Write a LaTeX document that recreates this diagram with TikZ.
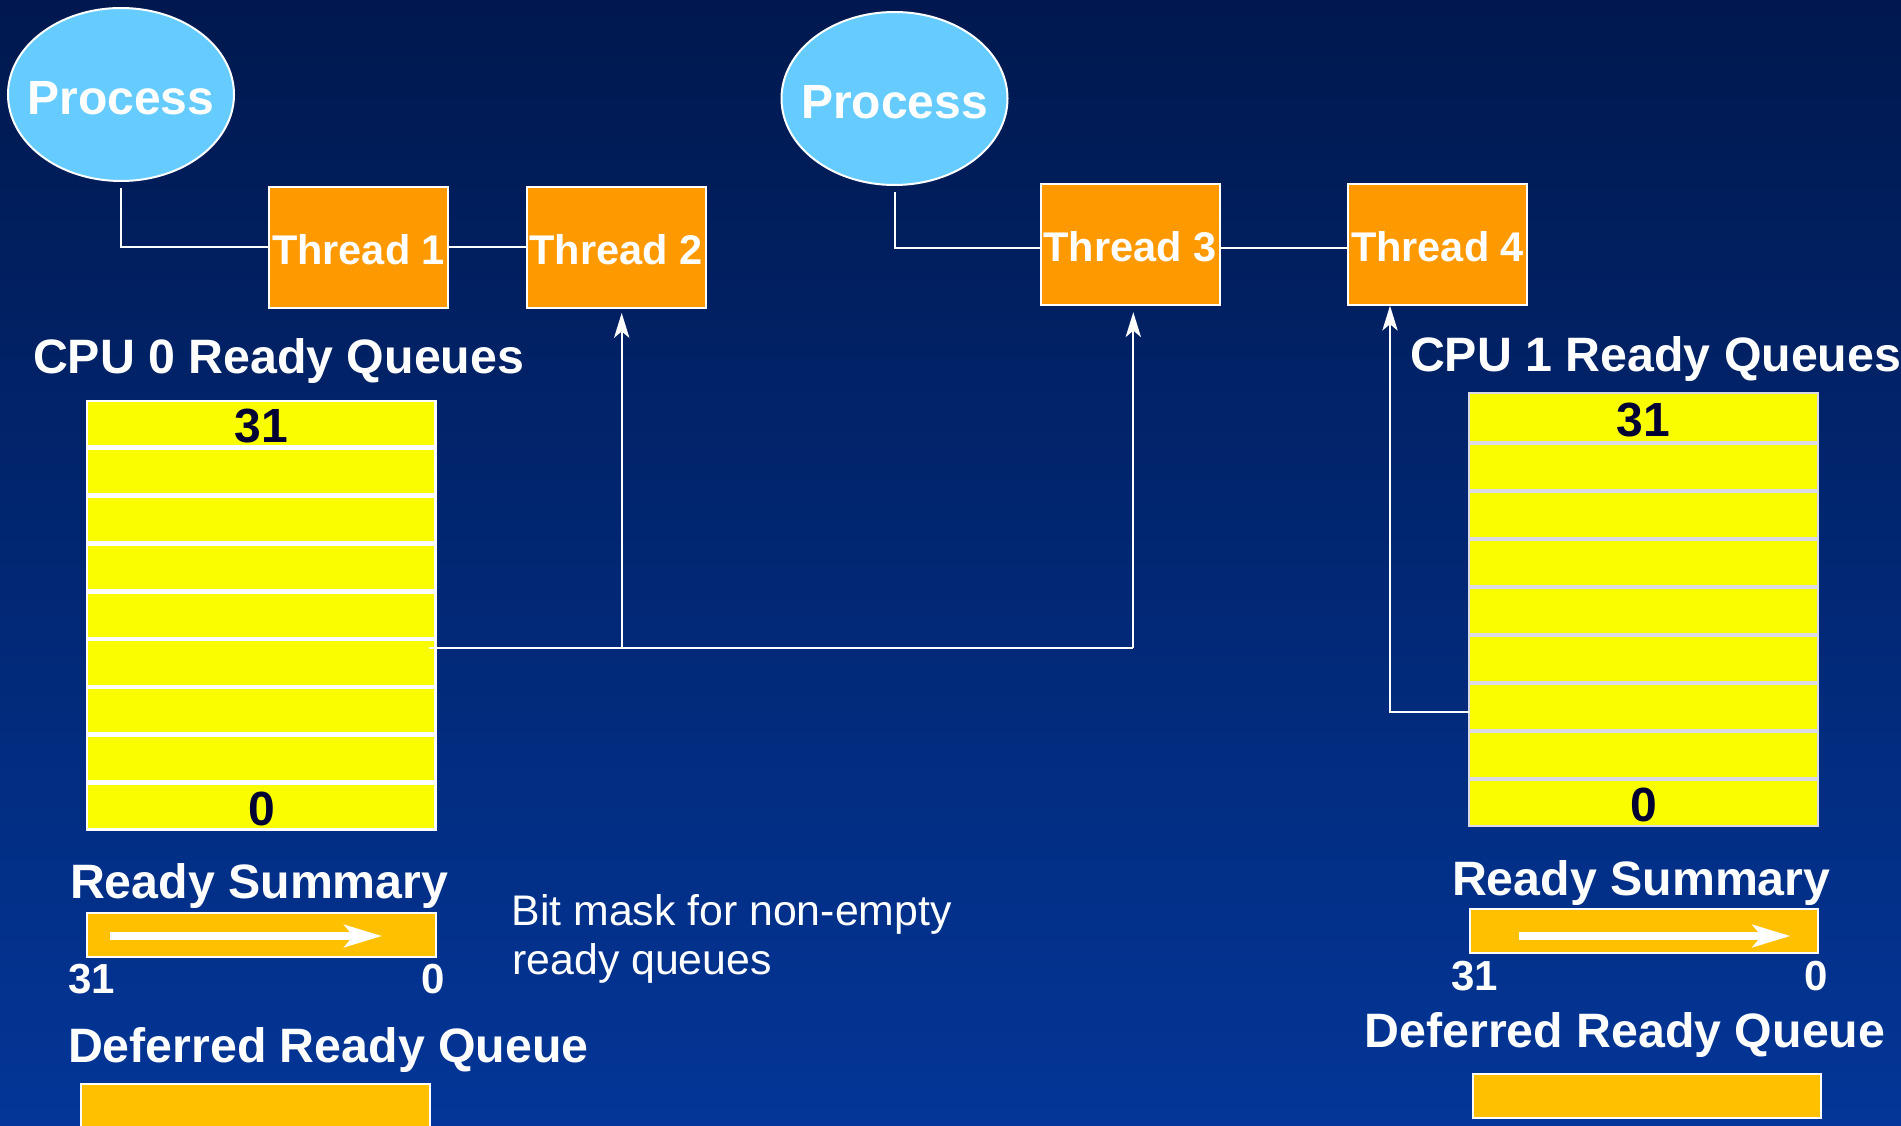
\documentclass[tikz,border=0pt]{standalone}
\usepackage{fontspec}
\setmainfont{Liberation Sans}
\usetikzlibrary{shapes.geometric,arrows.meta}

\definecolor{bgtop}{RGB}{0,24,78}
\definecolor{bgbot}{RGB}{3,54,152}
\definecolor{procblue}{RGB}{102,204,255}
\definecolor{thrdorange}{RGB}{255,153,0}
\definecolor{qyellow}{RGB}{250,252,0}
\definecolor{sumgold}{RGB}{255,192,0}
\definecolor{qnavy}{RGB}{0,0,51}
\definecolor{qsep}{RGB}{218,218,228}

\newcommand{\pxsize}[1]{\fontsize{#1}{#1}\selectfont}

\begin{document}
\begin{tikzpicture}[x=1pt,y=-1pt,
  wire/.style={draw=white, line width=2pt},
  uptip/.style={-{Stealth[length=25pt,width=15.5pt,inset=6.5pt,line width=0pt]}},
  bitarrow/.style={draw=white, line width=8.3pt,
    -{Stealth[length=38.4pt,width=23.4pt,inset=10pt,line width=0pt]}},
  process/.style={ellipse, fill=procblue, draw=white, line width=2pt,
    minimum width=226pt, minimum height=173pt, inner sep=0pt, outer sep=0pt},
  proclabel/.style={text=white, font=\bfseries\pxsize{48}, inner sep=0pt, yshift=-3.5pt},
  thread/.style={rectangle, fill=thrdorange, draw=white, line width=2pt,
    minimum width=179pt, minimum height=121pt, inner sep=0pt, outer sep=0pt,
    text height=35pt, text depth=0pt,
    text=white, font=\bfseries\pxsize{41.5}},
  qrow0/.style={rectangle, fill=qyellow, draw=white, line width=2.4pt,
    minimum width=348.2pt, minimum height=45.5pt, inner sep=0pt, outer sep=0pt,
    text height=37.5pt, text depth=0pt,
    text=qnavy, font=\bfseries\pxsize{48}},
  qrow1/.style={rectangle, fill=qyellow, draw=qsep, line width=1.8pt,
    minimum width=349.2pt, minimum height=46.2pt, inner sep=0pt, outer sep=0pt,
    text height=37.5pt, text depth=0pt,
    text=qnavy, font=\bfseries\pxsize{48}},
  sumbox/.style={rectangle, fill=sumgold, draw=white, line width=2pt,
    minimum width=348.7pt, minimum height=44.3pt, inner sep=0pt, outer sep=0pt},
  heading/.style={anchor=base west, inner sep=0pt, outer sep=0pt, text=white,
    font=\bfseries\pxsize{48.3}},
  bitnum/.style={inner sep=0pt, outer sep=0pt, text=white, font=\bfseries\pxsize{42}},
  note/.style={anchor=base west, inner sep=0pt, outer sep=0pt, text=white,
    font=\pxsize{42.8}}
]
\useasboundingbox (0,0) rectangle (1901,1126);
\clip (0,0) rectangle (1901,1126);
\shade[top color=bgtop, bottom color=bgbot] (0,0) rectangle (1901,1126);

% processes and their threads
\node[process, label={[proclabel]center:Process}] (p1) at (121,94.5) {};
\node[process, label={[proclabel]center:Process}] (p2) at (894.5,98.5) {};

\node[thread] (t1) at (358.5,247.5) {Thread 1};
\node[thread] (t2) at (616,247.5) {Thread 2};
\node[thread] (t3) at (1130,244.2) {Thread 3};
\node[thread] (t4) at (1437.5,244.2) {Thread 4};

\draw[wire, shorten <=7pt] (p1.south) |- (t1.west);
\draw[wire] (t1.east) -- (t2.west);
\draw[wire, shorten <=7pt] (p2.south) |- ([yshift=-4pt]t3.west);
\draw[wire] ([yshift=-4pt]t3.east) -- ([yshift=-4pt]t4.west);

% CPU 0 ready queues
\node[heading] (cpu0) at (33,373.3) {CPU 0 Ready Queues};
\node[qrow0] (q0r1) at (261.35,423.45) {31};
\foreach \i in {2,...,8}
  \node[qrow0] (q0r\i) at (261.35,{423.45+47.9*(\i-1)}) {};
\node[qrow0] (q0r9) at (261.35,806.65) {0};

% CPU 1 ready queues
\node[heading] (cpu1) at (1410,371) {CPU 1 Ready Queues};
\node[qrow1, minimum height=49.2pt] (q1r1) at (1643.5,417.5) {31};
\foreach \i in {2,...,8}
  \node[qrow1] (q1r\i) at (1643.5,{467+48*(\i-2)}) {};
\node[qrow1] (q1r9) at (1643.5,803) {0};

% queue to thread links
\coordinate (j2) at (621.7,648.3);
\coordinate (j3) at (1133.3,648.3);
\coordinate (j4) at (1390,711.7);
\draw[wire] ([xshift=-6pt]q0r6.east |- j2) -- (j3);
\draw[wire, uptip, shorten >=5pt] (j2) -- (j2 |- t2.south);
\draw[wire, uptip, shorten >=7.5pt] (j3) -- (j3 |- t3.south);
\draw[wire, uptip, shorten >=1pt] (q1r7.west |- j4) -- (j4) -- (j4 |- t4.south);

% ready summaries
\node[heading] (rs0lbl) at (70,898.5) {Ready Summary};
\node[sumbox] (rs0) at (261.35,935) {};
\coordinate (rs0a) at (110,936);
\coordinate (rs0b) at (381.7,936);
\draw[bitarrow] (rs0a) -- (rs0b);
\node[bitnum, anchor=base west] (rs0hi) at (68.3,993) {31};
\node[bitnum, anchor=base east] (rs0lo) at (445,993) {0};

\node[heading] (rs1lbl) at (1452,895) {Ready Summary};
\node[sumbox] (rs1) at (1644,931.3) {};
\coordinate (rs1a) at (1518.5,936);
\coordinate (rs1b) at (1790,936);
\draw[bitarrow] (rs1a) -- (rs1b);
\node[bitnum, anchor=base west] (rs1hi) at (1451.3,990) {31};
\node[bitnum, anchor=base east] (rs1lo) at (1828,990) {0};

\node[note] (bm1) at (511.6,925) {Bit mask for non-empty};
\node[note] (bm2) at (512.5,974.5) {ready queues};

% deferred ready queues
\node[heading] (dq0lbl) at (68,1062.7) {Deferred Ready Queue};
\node[sumbox, minimum height=66.3pt] (dq0) at (255.5,1116.85) {};
\node[heading] (dq1lbl) at (1364.6,1047.3) {Deferred Ready Queue};
\node[sumbox] (dq1) at (1646.9,1096.3) {};
\end{tikzpicture}
\end{document}
